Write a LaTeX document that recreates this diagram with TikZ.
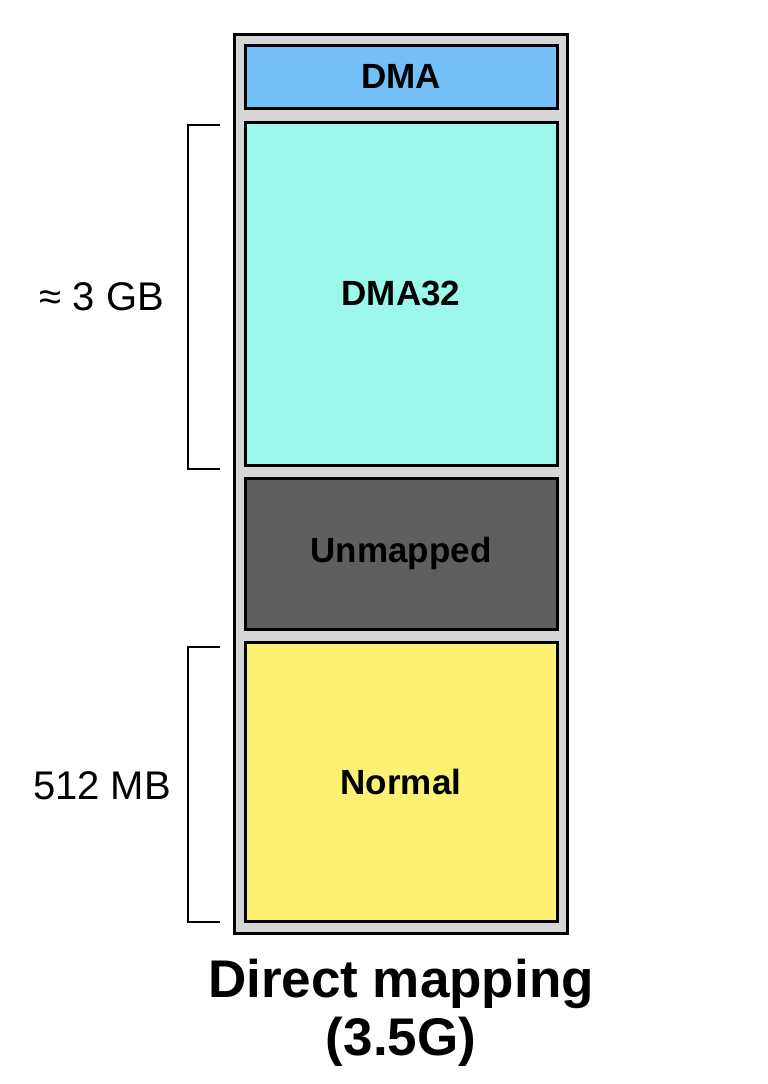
\documentclass[tikz,border=0pt]{standalone}
\usepackage{fontspec}
\setmainfont{Liberation Sans}
\definecolor{dmablue}{HTML}{73BFF8}
\definecolor{dmathree}{HTML}{9CF9EA}
\definecolor{unmapped}{HTML}{5F5F5F}
\definecolor{normalyel}{HTML}{FCF172}
\definecolor{outergray}{HTML}{D5D5D5}
\begin{document}
\begin{tikzpicture}[x=1pt,y=-1pt,
  zone/.style={draw=black, line width=3pt, minimum width=312pt, inner sep=0pt,
    font=\fontsize{35}{40}\selectfont\bfseries},
  outerbox/.style={draw=black, fill=outergray, line width=3pt, inner sep=0pt,
    minimum width=333pt, minimum height=899pt},
  bracket/.style={draw=black, line width=2.5pt},
  sidelabel/.style={font=\fontsize{40}{46}\selectfont},
  title/.style={font=\fontsize{53}{60}\selectfont\bfseries, anchor=base}]
\useasboundingbox (0,0) rectangle (768,1084);
\node[outerbox] (outer) at (400.5,483.5) {};
\node[zone, fill=dmablue, minimum height=63pt] (dma) at (401,76.5) {DMA};
\node[zone, fill=dmathree, minimum height=343pt] (dma32) at (401,293.5) {DMA32};
\node[zone, fill=unmapped, minimum height=151pt] (unm) at (401,553.5) {Unmapped};
\node[zone, fill=normalyel, minimum height=279pt] (norm) at (401,781.5) {Normal};
\coordinate (b1t) at (220,125);
\coordinate (b1b) at (220,469);
\coordinate (b2t) at (220,647);
\coordinate (b2b) at (220,922);
\draw[bracket] (b1t) -- (188,125) -- (188,469) -- (b1b);
\draw[bracket] (b2t) -- (188,647) -- (188,922) -- (b2b);
\node[sidelabel] (l1) at (102,297) {≈ 3 GB};
\node[sidelabel] (l2) at (102,786) {512 MB};
\node[title] (t1) at (401,997) {Direct mapping};
\node[title] (t2) at (401,1055) {(3.5G)};
\end{tikzpicture}
\end{document}
